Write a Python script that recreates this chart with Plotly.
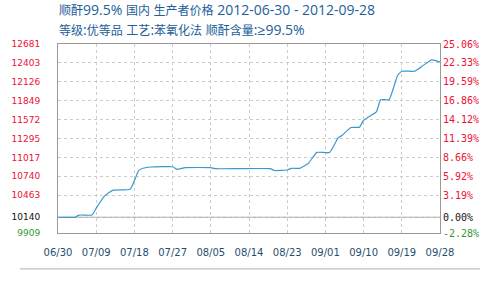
import plotly.graph_objects as go

# ---- data ----
dates = ["2012-06-30", "2012-07-04", "2012-07-05", "2012-07-08", "2012-07-09", "2012-07-11",
         "2012-07-13", "2012-07-17", "2012-07-19", "2012-07-20", "2012-07-22", "2012-07-27",
         "2012-07-28", "2012-07-30", "2012-08-05", "2012-08-06", "2012-08-19", "2012-08-20",
         "2012-08-23", "2012-08-24", "2012-08-26", "2012-08-28", "2012-08-30", "2012-09-02",
         "2012-09-04", "2012-09-05", "2012-09-07", "2012-09-09", "2012-09-10", "2012-09-13",
         "2012-09-14", "2012-09-16", "2012-09-18", "2012-09-19", "2012-09-22", "2012-09-24",
         "2012-09-26", "2012-09-27", "2012-09-28"]
prices = [10140, 10140, 10172, 10172, 10274, 10454,
          10537, 10551, 10823, 10858, 10877, 10881,
          10843, 10867, 10867, 10852, 10852, 10826,
          10833, 10858, 10858, 10931, 11091, 11091,
          11304, 11344, 11456, 11460, 11563, 11684,
          11865, 11865, 12219, 12282, 12282, 12365,
          12448, 12438, 12413]

base_price = 10140
y_min, y_max = 9909, 12681
left_ticks = [12681, 12403, 12126, 11849, 11572, 11295, 11017, 10740, 10463, 10140, 9909]
right_labels = ["25.06%", "22.33%", "19.59%", "16.86%", "14.12%", "11.39%",
                "8.66%", "5.92%", "3.19%", "0.00%", "-2.28%"]
x_tick_dates = ["2012-06-30", "2012-07-09", "2012-07-18", "2012-07-27", "2012-08-05", "2012-08-14",
                "2012-08-23", "2012-09-01", "2012-09-10", "2012-09-19", "2012-09-28"]
x_tick_labels = ["06/30", "07/09", "07/18", "07/27", "08/05", "08/14",
                 "08/23", "09/01", "09/10", "09/19", "09/28"]
title_line1 = "顺酐99.5% 国内 生产者价格 2012-06-30 - 2012-09-28"
title_line2 = "等级:优等品 工艺:苯氧化法 顺酐含量:≥99.5%"

RED = "#ee1133"
GREEN = "#339933"
BLACK = "#111111"


def pct(v):
    return (v - base_price) / base_price * 100


def color_for(v):
    if v == base_price:
        return BLACK
    if v < base_price:
        return GREEN
    return RED


def mixed_runs(text):
    """Wrap CJK runs and Latin runs in spans with different sizes/fonts."""
    out, run, run_cjk = [], "", None
    for ch in text:
        is_cjk = ord(ch) >= 0x2E80
        if run and is_cjk != run_cjk:
            out.append((run, run_cjk))
            run = ""
        run += ch
        run_cjk = is_cjk
    if run:
        out.append((run, run_cjk))
    parts = []
    for r, cjk in out:
        if cjk:
            parts.append(f'<span style="font-family:Noto Sans CJK SC;font-size:12px">{r}</span>')
        else:
            parts.append(f'<span style="font-family:Open Sans;font-size:14px">{r}</span>')
    return "".join(parts)


left_text = [f'<span style="color:{color_for(v)}">{v}</span>' for v in left_ticks]
right_text = [f'<span style="color:{color_for(v)}">{t}</span>' for v, t in zip(left_ticks, right_labels)]

fig = go.Figure()
fig.add_trace(go.Scatter(
    x=dates, y=prices, mode="lines",
    line=dict(color="#3b97cf", width=1.2, shape="spline", smoothing=0.4),
    hoverinfo="x+y", showlegend=False,
))
fig.add_trace(go.Scatter(
    x=[dates[0], dates[-1]], y=[pct(y_min), pct(y_max)], mode="lines",
    line=dict(color="rgba(0,0,0,0)"), yaxis="y2", hoverinfo="skip", showlegend=False,
))

fig.add_shape(type="line", xref="paper", x0=0, x1=1, yref="y", y0=base_price, y1=base_price,
              line=dict(color="#999999", width=1), layer="below")
fig.add_shape(type="line", xref="paper", x0=-0.1, x1=1.105, yref="paper", y0=-0.19, y1=-0.19,
              line=dict(color="#b0b0b0", width=1))

title_font = dict(family="Open Sans, Noto Sans CJK SC", size=14, color="#22609a")
fig.add_annotation(text=mixed_runs(title_line1), xref="paper", yref="paper", x=-0.003, y=1 + 34 / 189,
                   xanchor="left", yanchor="middle", showarrow=False, font=title_font)
fig.add_annotation(text=mixed_runs(title_line2), xref="paper", yref="paper", x=-0.003, y=1 + 15 / 189,
                   xanchor="left", yanchor="middle", showarrow=False, font=title_font)

fig.update_layout(
    width=491, height=291,
    margin=dict(l=48, r=44, t=44, b=58),
    paper_bgcolor="white", plot_bgcolor="white",
    xaxis=dict(
        type="date", range=[x_tick_dates[0], x_tick_dates[-1]],
        tickmode="array", tickvals=x_tick_dates, ticktext=x_tick_labels,
        showgrid=True, gridcolor="#cccccc", griddash="dot", gridwidth=1,
        showline=True, linecolor="#999999", mirror=True, zeroline=False,
        ticks="", ticklabelstandoff=10,
        tickfont=dict(family="DejaVu Sans", size=10, color="#1f4f6f"),
    ),
    yaxis=dict(
        range=[y_min, y_max], tickmode="array", tickvals=left_ticks, ticktext=left_text,
        showgrid=True, gridcolor="#cccccc", griddash="dot", gridwidth=1,
        showline=True, linecolor="#999999", mirror=True, zeroline=False,
        ticks="", ticklabelstandoff=15,
        tickfont=dict(family="DejaVu Sans", size=9, color=RED),
    ),
    yaxis2=dict(
        overlaying="y", side="right", range=[pct(y_min), pct(y_max)],
        tickmode="array", tickvals=[pct(v) for v in left_ticks], ticktext=right_text,
        showgrid=False, zeroline=False, showline=False, ticks="", ticklabelstandoff=2,
        tickfont=dict(family="DejaVu Sans Mono", size=10, color=RED),
    ),
)

fig.write_html("out.html")
